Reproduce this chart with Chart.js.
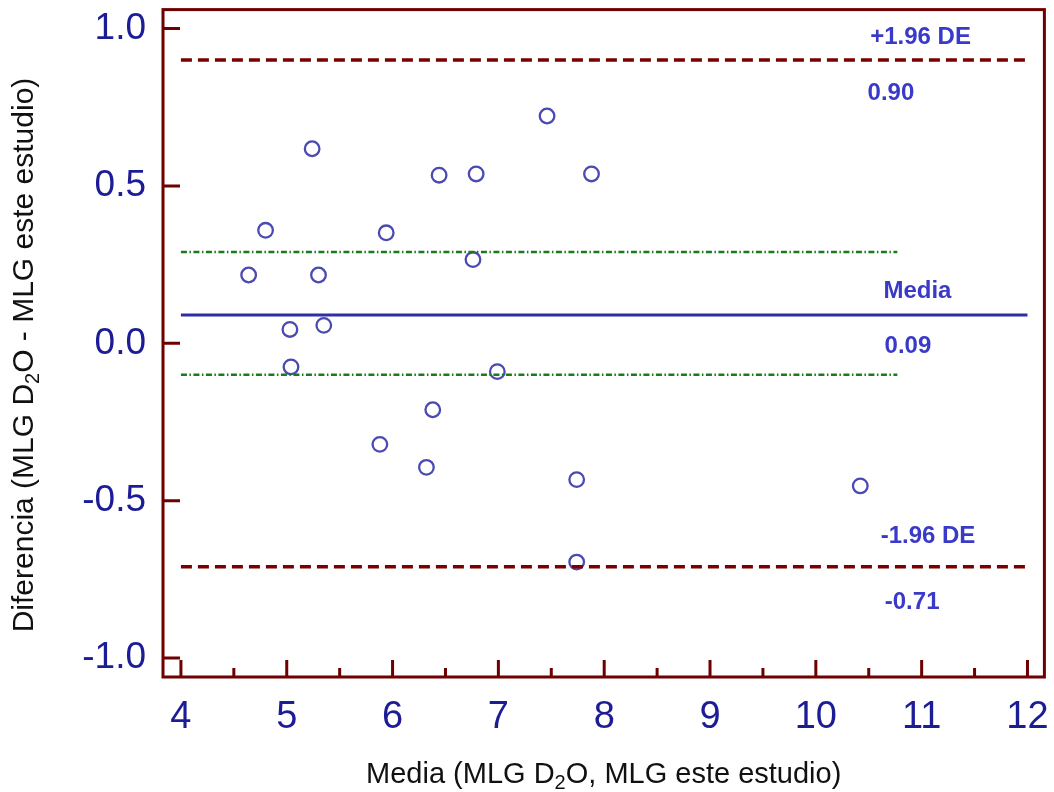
<!DOCTYPE html>
<html>
<head>
<meta charset="utf-8">
<script src="https://cdn.jsdelivr.net/npm/chart.js@4.4.1/dist/chart.umd.min.js"></script>
<style>
  html, body { margin: 0; padding: 0; background: #fff; }
</style>
</head>
<body>
<canvas id="chart" width="1054" height="792"></canvas>
<script>
// Datos Bland-Altman
const mediaX = [4.64, 4.80, 5.03, 5.04, 5.24, 5.30, 5.35, 5.88, 5.94, 6.32, 6.38, 6.44, 6.76, 6.79, 6.99, 7.46, 7.74, 7.74, 7.88, 10.42];
const diferenciaY = [0.217, 0.359, 0.044, -0.075, 0.618, 0.217, 0.057, -0.321, 0.351, -0.394, -0.211, 0.534, 0.266, 0.538, -0.090, 0.722, -0.433, -0.695, 0.538, -0.453];

const mediaDif = 0.09;
const limiteSup = 0.90;
const limiteInf = -0.71;
const icMedia = [0.29, -0.10];   // IC de la media (lineas verdes)
const lineaX = [4, 12];
const icX = [4, 10.77];

const xTicks = [4, 5, 6, 7, 8, 9, 10, 11, 12];
const xMinorTicks = [4.5, 5.5, 6.5, 7.5, 8.5, 9.5, 10.5, 11.5];
const yTicks = [-1.0, -0.5, 0.0, 0.5, 1.0];

const BORDE = '#6e0000';
const AZUL_TXT = '#1c1c96';

function hLine(y, xs) {
  return xs.map(x => ({ x: x, y: y }));
}

function sinPadding(s) {
  s.paddingTop = 0;
  s.paddingBottom = 0;
  s.paddingLeft = 0;
  s.paddingRight = 0;
}

// marco y marcas hacia dentro
const framePlugin = {
  id: 'frame',
  afterDraw(chart) {
    const { ctx, chartArea: a, scales } = chart;
    const sx = scales.x, sy = scales.y;
    ctx.save();
    ctx.strokeStyle = BORDE;
    ctx.lineWidth = 3;
    ctx.strokeRect(a.left, a.top, a.right - a.left, a.bottom - a.top);
    ctx.beginPath();
    yTicks.forEach(v => {
      const p = sy.getPixelForValue(v);
      ctx.moveTo(a.left, p);
      ctx.lineTo(a.left + 17, p);
    });
    xTicks.forEach(v => {
      const p = sx.getPixelForValue(v);
      ctx.moveTo(p, a.bottom);
      ctx.lineTo(p, a.bottom - 17);
    });
    xMinorTicks.forEach(v => {
      const p = sx.getPixelForValue(v);
      ctx.moveTo(p, a.bottom);
      ctx.lineTo(p, a.bottom - 9);
    });
    ctx.stroke();

    // etiquetas de las lineas
    const etiquetas = [
      { t: '+1.96 DE', x: 10.99, v: limiteSup, dy: -16 },
      { t: limiteSup.toFixed(2), x: 10.71, v: limiteSup, dy: 40 },
      { t: 'Media', x: 10.96, v: mediaDif, dy: -17 },
      { t: mediaDif.toFixed(2), x: 10.87, v: mediaDif, dy: 38 },
      { t: '-1.96 DE', x: 11.06, v: limiteInf, dy: -24 },
      { t: limiteInf.toFixed(2), x: 10.91, v: limiteInf, dy: 42 }
    ];
    ctx.fillStyle = '#3a3ac8';
    ctx.font = 'bold 24px "Liberation Sans", Arial, sans-serif';
    ctx.textAlign = 'center';
    ctx.textBaseline = 'alphabetic';
    etiquetas.forEach(e => {
      ctx.fillText(e.t, sx.getPixelForValue(e.x), sy.getPixelForValue(e.v) + e.dy);
    });

    // titulos de ejes con subindice
    ctx.fillStyle = '#111';
    const xTitle = [['Media (MLG D', false], ['2', true], ['O, MLG este estudio)', false]];
    drawSub(ctx, xTitle, (a.left + a.right) / 2, 783, 29);
    const yTitle = [['Diferencia (MLG D', false], ['2', true], ['O - MLG este estudio)', false]];
    ctx.translate(33, 355);
    ctx.rotate(-Math.PI / 2);
    drawSub(ctx, yTitle, 0, 0, 30);
    ctx.restore();
  }
};

function drawSub(ctx, parts, cx, baseY, size) {
  const big = size + 'px "Liberation Sans", Arial, sans-serif';
  const small = Math.round(size * 0.68) + 'px "Liberation Sans", Arial, sans-serif';
  let total = 0;
  parts.forEach(p => {
    ctx.font = p[1] ? small : big;
    total += ctx.measureText(p[0]).width;
  });
  let x = cx - total / 2;
  ctx.textAlign = 'left';
  ctx.textBaseline = 'alphabetic';
  parts.forEach(p => {
    ctx.font = p[1] ? small : big;
    ctx.fillText(p[0], x, baseY + (p[1] ? 6 : 0));
    x += ctx.measureText(p[0]).width;
  });
}

const ctx = document.getElementById('chart').getContext('2d');
new Chart(ctx, {
  type: 'scatter',
  data: {
    datasets: [
      {
        type: 'line', data: hLine(limiteSup, lineaX), borderColor: '#7a0000', borderWidth: 3.5,
        borderDash: [11, 6], pointRadius: 0, fill: false
      },
      {
        type: 'line', data: hLine(limiteInf, lineaX), borderColor: '#7a0000', borderWidth: 3.5,
        borderDash: [11, 6], pointRadius: 0, fill: false
      },
      {
        type: 'line', data: hLine(mediaDif, lineaX), borderColor: '#2e2ea6', borderWidth: 3,
        pointRadius: 0, fill: false
      },
      {
        type: 'line', data: hLine(icMedia[0], icX), borderColor: '#1b7a1b', borderWidth: 2.5,
        borderDash: [6, 2.5, 1.5, 2.5], pointRadius: 0, fill: false
      },
      {
        type: 'line', data: hLine(icMedia[1], icX), borderColor: '#1b7a1b', borderWidth: 2.5,
        borderDash: [6, 2.5, 1.5, 2.5], pointRadius: 0, fill: false
      },
      {
        data: mediaX.map((x, i) => ({ x: x, y: diferenciaY[i] })),
        pointStyle: 'circle', pointRadius: 7.3, pointHoverRadius: 7.3,
        borderWidth: 2.3, borderColor: '#4a4ab2', backgroundColor: 'rgba(0,0,0,0)'
      }
    ]
  },
  options: {
    responsive: false,
    animation: false,
    layout: { padding: { top: 7, right: 6, left: 0, bottom: 0 } },
    plugins: { legend: { display: false }, tooltip: { enabled: false } },
    scales: {
      x: {
        type: 'linear', min: 3.8306, max: 12.16,
        afterBuildTicks: s => { s.ticks = xTicks.map(v => ({ value: v })); },
        afterFit: s => { s.height = 115; sinPadding(s); },
        grid: { display: false, drawTicks: false },
        border: { display: false },
        ticks: {
          color: AZUL_TXT, padding: 18, maxRotation: 0, autoSkip: false,
          font: { family: '"Liberation Sans", Arial, sans-serif', size: 38 },
          callback: v => String(v)
        }
      },
      y: {
        type: 'linear', min: -1.06, max: 1.06,
        afterBuildTicks: s => { s.ticks = yTicks.map(v => ({ value: v })); },
        afterFit: s => { s.width = 163; sinPadding(s); },
        grid: { display: false, drawTicks: false },
        border: { display: false },
        ticks: {
          color: AZUL_TXT, padding: 17, autoSkip: false,
          font: { family: '"Liberation Sans", Arial, sans-serif', size: 37 },
          callback: v => v.toFixed(1)
        }
      }
    }
  },
  plugins: [framePlugin]
});
</script>
</body>
</html>
